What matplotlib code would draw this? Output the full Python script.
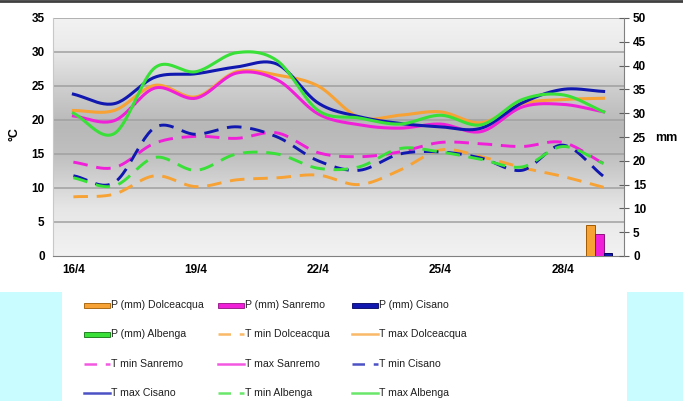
import numpy as np
import matplotlib.pyplot as plt
from matplotlib.lines import Line2D
from matplotlib.patches import Rectangle
from matplotlib.colors import LinearSegmentedColormap

plt.rcParams['font.family'] = ['Liberation Sans', 'DejaVu Sans']

# Days shown on the x axis (16/4 .. 29/4)
days = ['16/4', '17/4', '18/4', '19/4', '20/4', '21/4', '22/4',
        '23/4', '24/4', '25/4', '26/4', '27/4', '28/4', '29/4']
tick_days = ['16/4', '19/4', '22/4', '25/4', '28/4']

# Temperatures (deg C)
tmax_dolceacqua = [21.4, 21.4, 25.1, 23.4, 27.1, 26.6, 25.0, 20.4, 20.7, 21.2, 19.6, 22.4, 23.0, 23.2]
tmin_dolceacqua = [8.7, 9.1, 11.8, 10.2, 11.2, 11.5, 11.9, 10.5, 12.6, 15.6, 14.6, 13.0, 11.7, 10.1]
tmax_sanremo = [20.6, 19.9, 24.7, 23.2, 26.9, 25.9, 20.9, 19.3, 18.8, 19.4, 18.3, 21.9, 22.3, 21.2]
tmin_sanremo = [13.8, 13.0, 16.6, 17.6, 17.3, 18.1, 15.2, 14.6, 15.3, 16.7, 16.5, 16.1, 16.7, 13.6]
tmax_cisano = [23.8, 22.4, 26.3, 26.8, 27.8, 28.2, 22.5, 20.5, 19.5, 19.0, 18.8, 22.5, 24.5, 24.2]
tmin_cisano = [11.8, 10.8, 18.9, 17.9, 19.0, 17.5, 14.0, 12.6, 15.0, 15.3, 14.4, 12.6, 16.3, 11.7]
tmax_albenga = [21.0, 18.0, 27.7, 27.1, 29.9, 28.7, 21.4, 20.3, 19.4, 20.7, 19.3, 23.0, 23.7, 21.2]
tmin_albenga = [11.5, 10.3, 14.5, 12.6, 15.0, 15.0, 12.9, 13.1, 15.8, 15.3, 14.2, 13.1, 16.1, 13.6]

# Precipitation (mm)
p_dolceacqua = [0, 0, 0, 0, 0, 0, 0, 0, 0, 0, 0, 0, 0, 6.5]
p_sanremo = [0, 0, 0, 0, 0, 0, 0, 0, 0, 0, 0, 0, 0, 4.7]
p_cisano = [0, 0, 0, 0, 0, 0, 0, 0, 0, 0, 0, 0, 0, 0.7]
p_albenga = [0, 0, 0, 0, 0, 0, 0, 0, 0, 0, 0, 0, 0, 0]

ORANGE = '#f7a235'
MAGENTA = '#f020d8'
BLUE = '#1018b0'
GREEN = '#38e038'


def smooth(y, n=24):
    # Excel-like smoothed line (Catmull-Rom through the points)
    y = np.asarray(y, float)
    p = np.concatenate([[2 * y[0] - y[1]], y, [2 * y[-1] - y[-2]]])
    t = np.linspace(0, 1, n, endpoint=False)
    xs, ys = [], []
    for i in range(len(y) - 1):
        p0, p1, p2, p3 = p[i], p[i + 1], p[i + 2], p[i + 3]
        yy = 0.5 * (2 * p1 + (-p0 + p2) * t + (2 * p0 - 5 * p1 + 4 * p2 - p3) * t ** 2
                    + (-p0 + 3 * p1 - 3 * p2 + p3) * t ** 3)
        xs.append(i + t)
        ys.append(yy)
    xs.append([len(y) - 1])
    ys.append([y[-1]])
    return np.concatenate(xs), np.concatenate(ys)


fig = plt.figure(figsize=(6.83, 4.01), dpi=100)

# legend area background
fig.patches.append(Rectangle((0, 0), 1, 1 - 292 / 401, transform=fig.transFigure,
                             facecolor='#c8fcfe', edgecolor='none', zorder=0))
fig.patches.append(Rectangle((62 / 683, 0), (627 - 62) / 683, 1 - 292 / 401,
                             transform=fig.transFigure, facecolor='white',
                             edgecolor='none', zorder=0))
fig.add_artist(Line2D([0, 1], [1 - 1 / 401, 1 - 1 / 401], transform=fig.transFigure,
                      color='#404040', lw=2))

ax1 = fig.add_axes([53 / 683, 1 - 256 / 401, (624 - 53) / 683, (256 - 18) / 401])
x = np.arange(len(days))

# grey gradient background
cmap = LinearSegmentedColormap.from_list('bg', [
    (0.0, '#f2f2f2'), (0.2, '#e6e6e6'), (0.42, '#c0c0c0'), (0.55, '#b8b8b8'),
    (0.72, '#d0d0d0'), (0.88, '#ebebeb'), (1.0, '#f2f2f2')])
grad = np.linspace(0, 1, 256).reshape(-1, 1)
ax1.imshow(grad, extent=[-0.5, 13.5, 0, 35], aspect='auto', cmap=cmap,
           origin='lower', zorder=0)
ax1.set_xlim(-0.5, 13.5)
ax1.set_ylim(0, 35)

for yv in range(5, 36, 5):
    ax1.axhline(yv, color='#a0a0a0', lw=1.1, zorder=1)

series = [
    (tmax_dolceacqua, ORANGE, '-'), (tmax_sanremo, MAGENTA, '-'),
    (tmax_cisano, BLUE, '-'), (tmax_albenga, GREEN, '-'),
    (tmin_dolceacqua, ORANGE, '--'), (tmin_sanremo, MAGENTA, '--'),
    (tmin_cisano, BLUE, '--'), (tmin_albenga, GREEN, '--'),
]
for vals, col, ls in series:
    sx, sy = smooth(vals)
    if ls == '--':
        ax1.plot(sx, sy, color=col, lw=2.1, dashes=(5, 3), zorder=3)
    else:
        ax1.plot(sx, sy, color=col, lw=2.2, zorder=3)

ax1.set_xticks([days.index(d) for d in tick_days])
ax1.set_xticklabels(tick_days, fontsize=8.5, fontweight='bold')
ax1.set_yticks(range(0, 36, 5))
ax1.set_yticklabels([str(v) for v in range(0, 36, 5)], fontsize=8.5, fontweight='bold')
ax1.tick_params(axis='both', length=0, pad=6)
for s in ['top', 'right']:
    ax1.spines[s].set_visible(False)
ax1.spines['left'].set_color('#c8c8c8')
ax1.spines['bottom'].set_color('#808080')

# precipitation bars on the right axis
ax2 = ax1.twinx()
ax2.set_ylim(0, 50)
w = 0.21
bars = [(p_dolceacqua, ORANGE, '#a05a00'), (p_sanremo, MAGENTA, '#901080'),
        (p_cisano, BLUE, '#000060'), (p_albenga, GREEN, '#107010')]
for k, (vals, col, ec) in enumerate(bars):
    ax2.bar(x + (k - 1.5) * w, vals, width=w, color=col, edgecolor=ec, lw=0.7, zorder=2)
ax2.set_yticks(range(0, 51, 5))
ax2.set_yticklabels([str(v) for v in range(0, 51, 5)], fontsize=8.5, fontweight='bold')
ax2.tick_params(axis='y', direction='inout', length=7, color='#606060', pad=3)
for s in ['top', 'left', 'bottom']:
    ax2.spines[s].set_visible(False)
ax2.spines['right'].set_color('#808080')

fig.text(15 / 683, 1 - 134 / 401, '°C', rotation=90, fontsize=9, fontweight='bold',
         ha='center', va='center')
fig.text(655 / 683, 1 - 138 / 401, 'mm', fontsize=9, fontweight='bold',
         ha='left', va='center')

# legend (3 columns, row-major order)
legend_items = [
    ('P (mm) Dolceacqua', ORANGE, 'bar', '#a05a00'),
    ('P (mm) Sanremo', MAGENTA, 'bar', '#901080'),
    ('P (mm) Cisano', BLUE, 'bar', '#000060'),
    ('P (mm) Albenga', GREEN, 'bar', '#107010'),
    ('T min Dolceacqua', ORANGE, '--', None),
    ('T max Dolceacqua', ORANGE, '-', None),
    ('T min Sanremo', MAGENTA, '--', None),
    ('T max Sanremo', MAGENTA, '-', None),
    ('T min Cisano', BLUE, '--', None),
    ('T max Cisano', BLUE, '-', None),
    ('T min Albenga', GREEN, '--', None),
    ('T max Albenga', GREEN, '-', None),
]
col_x = [84, 218, 352]
row_y = [305, 334, 364, 393]
for i, (label, col, kind, ec) in enumerate(legend_items):
    x0 = col_x[i % 3]
    yy = 1 - row_y[i // 3] / 401
    if kind == 'bar':
        fig.patches.append(Rectangle((x0 / 683, yy - 2.5 / 401), 26 / 683, 5 / 401,
                                     transform=fig.transFigure, facecolor=col,
                                     edgecolor=ec, lw=0.6))
    else:
        ln = Line2D([x0 / 683, (x0 + 26) / 683], [yy, yy], transform=fig.transFigure,
                    color=col, lw=1.8, alpha=0.75)
        if kind == '--':
            ln.set_dashes((5, 3.5))
        fig.add_artist(ln)
    fig.text((x0 + 27) / 683, yy, label, fontsize=7.6, ha='left', va='center',
             color='#202020')

fig.savefig('out.png', dpi=100)
